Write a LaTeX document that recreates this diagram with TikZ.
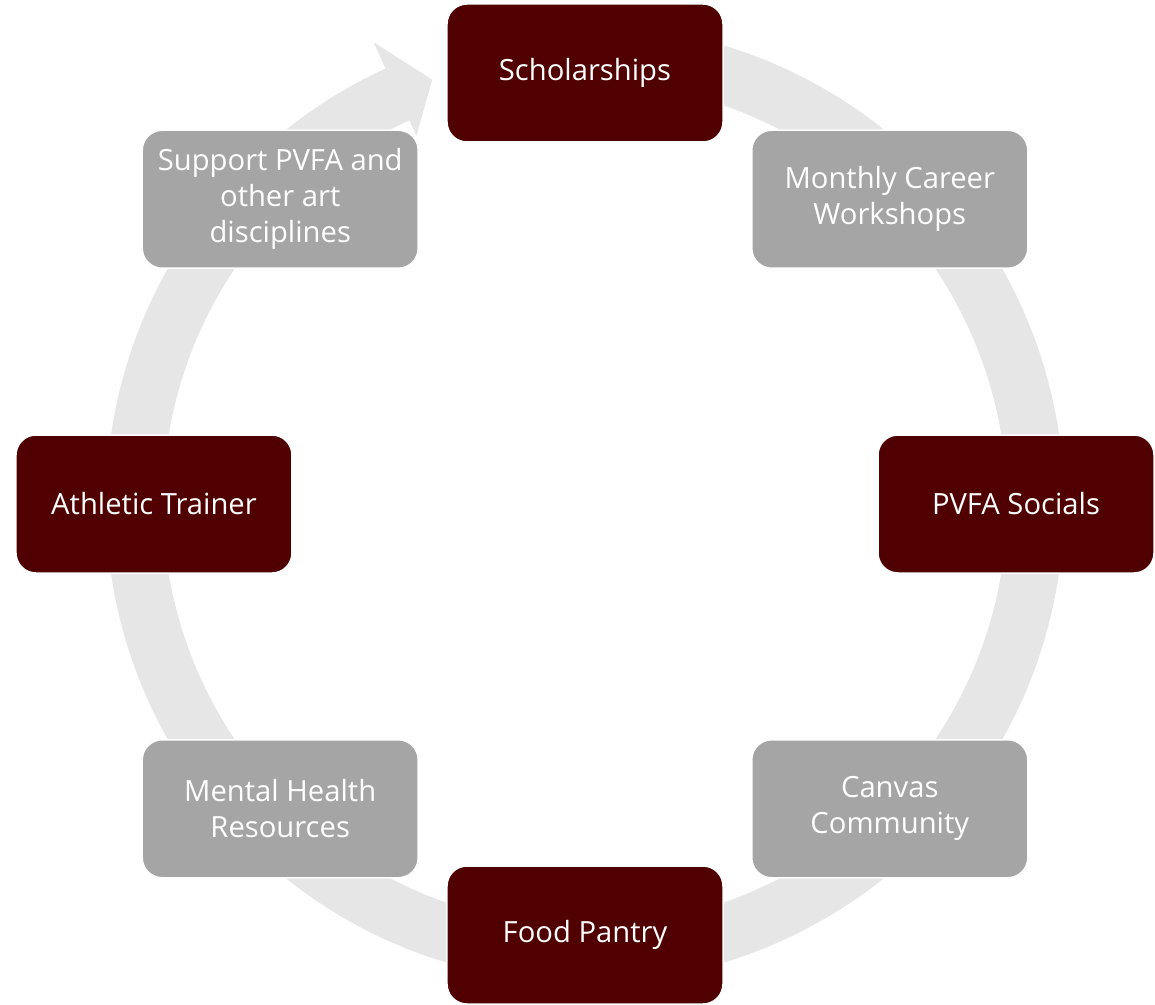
\documentclass[tikz,border=0pt]{standalone}
\usepackage{fontspec}
\setmainfont{Open Sans}
\definecolor{maroon}{HTML}{500000}
\definecolor{boxgray}{HTML}{A5A5A5}
\definecolor{bandgray}{HTML}{E6E6E6}
\begin{document}
\begin{tikzpicture}[x=1pt,y=1pt,
  item/.style={rounded corners=20pt, draw=white, line width=1.5pt,
    minimum width=276pt, minimum height=138pt, align=center, text=white,
    font=\fontsize{29.2}{36}\selectfont, inner sep=0pt},
  dark/.style={item, fill=maroon},
  light/.style={item, fill=boxgray}]
\useasboundingbox (-585,-500) rectangle (570,504);
% circular arrow band
\fill[bandgray] (80:479) arc[start angle=80, end angle=-245.4, radius=479]
  -- (114.6:508) -- (109.8:451) -- (114.6:405) -- (114.6:422)
  arc[start angle=-245.4, end angle=80, radius=422] -- cycle;
% boxes
\node[dark]  (schol)   at (90:431)   {Scholarships};
\node[light] (monthly) at (45:431)   {Monthly Career\\Workshops};
\node[dark]  (socials) at (0:431)    {PVFA Socials};
\node[light] (canvas)  at (-45:431)  {Canvas\\Community};
\node[dark]  (food)    at (-90:431)  {Food Pantry};
\node[light] (mental)  at (-135:431) {Mental Health\\Resources};
\node[dark]  (athletic) at (180:431) {Athletic Trainer};
\node[light] (support) at (135:431)  {Support PVFA and\\other art\\disciplines};
\end{tikzpicture}
\end{document}
